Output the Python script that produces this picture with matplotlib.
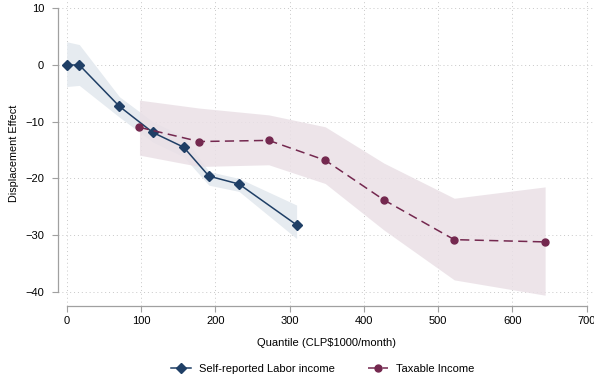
import matplotlib.pyplot as plt
import numpy as np

# Self-reported labor income (quantile, effect, CI bounds)
sr_x = [0, 17, 71, 116, 157.5, 191.5, 232, 309.5]
sr_y = [0.0, 0.0, -7.3, -11.9, -14.5, -19.6, -21.0, -28.2]
sr_hi = [4.1, 3.6, -5.6, -10.0, -12.6, -18.8, -20.0, -24.7]
sr_lo = [-3.8, -3.6, -9.2, -13.6, -16.2, -21.2, -22.3, -30.6]

# Taxable income
tx_x = [98, 178.5, 272, 348, 427, 521.7, 644]
tx_y = [-11.0, -13.5, -13.3, -16.8, -23.8, -30.8, -31.2]
tx_hi = [-6.2, -7.6, -8.8, -10.9, -17.3, -23.5, -21.5]
tx_lo = [-15.9, -17.9, -17.6, -20.9, -29.1, -37.9, -40.6]

x_ticks = [0, 100, 200, 300, 400, 500, 600, 700]
y_ticks = [-40, -30, -20, -10, 0, 10]

blue = '#1f3f66'
maroon = '#74284f'

plt.rcParams['font.family'] = ['Liberation Sans', 'DejaVu Sans']

fig = plt.figure(figsize=(5.94, 3.81), dpi=100)
ax = fig.add_axes([0.0976, 0.1969, 0.9024, 0.8031])

# confidence bands
ax.fill_between(sr_x, sr_lo, sr_hi, color='#e6ebf0', lw=0, zorder=1)
ax.fill_between(tx_x, tx_lo, tx_hi, color='#eae0e6', lw=0, alpha=0.85, zorder=1)

ax.plot(sr_x, sr_y, color=blue, lw=1.1, marker='D', ms=5,
        label='Self-reported Labor income', zorder=3)
ax.plot(tx_x, tx_y, color=maroon, lw=1.1, ls=(0, (6, 3.5)), marker='o', ms=5,
        label='Taxable Income', zorder=3)

ax.set_xlim(-11.7, 709.8)
ax.set_ylim(-42.5, 11.46)
ax.set_xticks(x_ticks)
ax.set_yticks(y_ticks)
ax.tick_params(labelsize=8, length=4, color='#a0a0a0', width=0.8)
ax.tick_params(axis='y', pad=6)
ax.tick_params(axis='x', pad=3)
ax.grid(True, ls=(0, (1, 3)), color='#c8c8c8', lw=0.7)
ax.set_axisbelow(True)

for s in ['top', 'right']:
    ax.spines[s].set_visible(False)
ax.spines['bottom'].set_bounds(0, 700)
ax.spines['left'].set_bounds(-40, 10)
for s in ['bottom', 'left']:
    ax.spines[s].set_color('#a0a0a0')
    ax.spines[s].set_linewidth(0.9)

ax.set_xlabel('Quantile (CLP$1000/month)', fontsize=8)
ax.set_ylabel('Displacement Effect', fontsize=7.8)
ax.xaxis.set_label_coords(0.501, -0.105)
ax.yaxis.set_label_coords(-0.073, 0.5)

ax.legend(loc='center', bbox_to_anchor=(0.494, -0.205), ncol=2, frameon=False,
          fontsize=8, handlelength=1.8, handletextpad=0.7, columnspacing=3.0)

fig.savefig('out.png', dpi=100)
